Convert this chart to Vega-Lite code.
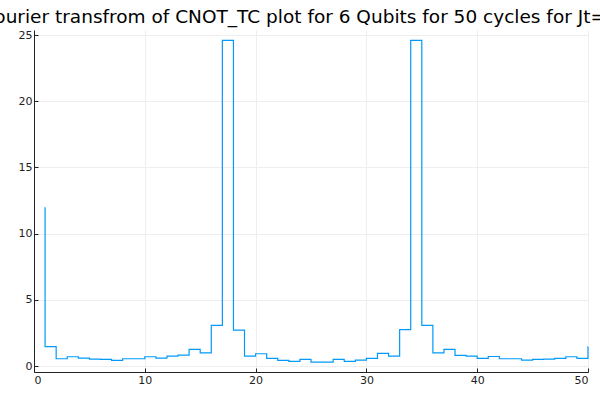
{
"$schema":"https://vega.github.io/schema/vega-lite/v6.json",
"autosize":"none",
"width":554,"height":342,
"padding":{"left":34,"top":30,"right":12,"bottom":28},
"background":"white",
"title":{"text":"Fourier transfrom of CNOT_TC plot for 6 Qubits for 50 cycles for Jt=1","fontSize":18.5,"fontWeight":"normal","font":"DejaVu Sans","color":"black","anchor":"middle","offset":3,"limit":0,"dx":-10},
"config":{"view":{"stroke":null},"axis":{"labelFont":"DejaVu Sans","labelFontSize":11,"labelColor":"#222","gridColor":"#eeeeee","domainColor":"#222","tickColor":"#222","tickSize":-4,"labelPadding":6,"titleFontSize":0}},
"data":{"values":[
{"x":1,"y":12},{"x":2,"y":1.46},{"x":3,"y":0.55},{"x":4,"y":0.7},{"x":5,"y":0.6},{"x":6,"y":0.52},{"x":7,"y":0.5},{"x":8,"y":0.43},{"x":9,"y":0.55},{"x":10,"y":0.55},
{"x":11,"y":0.7},{"x":12,"y":0.6},{"x":13,"y":0.75},{"x":14,"y":0.83},{"x":15,"y":1.26},{"x":16,"y":1.0},{"x":17,"y":3.07},{"x":18,"y":24.6},{"x":19,"y":2.72},{"x":20,"y":0.75},
{"x":21,"y":0.93},{"x":22,"y":0.58},{"x":23,"y":0.43},{"x":24,"y":0.35},{"x":25,"y":0.5},{"x":26,"y":0.3},{"x":27,"y":0.3},{"x":28,"y":0.5},{"x":29,"y":0.35},{"x":30,"y":0.45},
{"x":31,"y":0.58},{"x":32,"y":0.95},{"x":33,"y":0.75},{"x":34,"y":2.75},{"x":35,"y":24.6},{"x":36,"y":3.07},{"x":37,"y":1.0},{"x":38,"y":1.26},{"x":39,"y":0.8},{"x":40,"y":0.75},
{"x":41,"y":0.58},{"x":42,"y":0.72},{"x":43,"y":0.55},{"x":44,"y":0.55},{"x":45,"y":0.45},{"x":46,"y":0.5},{"x":47,"y":0.52},{"x":48,"y":0.58},{"x":49,"y":0.7},{"x":50,"y":0.58},
{"x":50.0001,"y":1.46}
]},
"mark":{"type":"line","interpolate":"step-before","color":"#009AFA","strokeWidth":1.2},
"encoding":{
"x":{"field":"x","type":"quantitative","scale":{"domain":[0,50],"nice":false},"axis":{"values":[0,10,20,30,40,50],"title":null}},
"y":{"field":"y","type":"quantitative","scale":{"domain":[-0.45,25.38],"nice":false,"zero":false},"axis":{"values":[0,5,10,15,20,25],"title":null}},
"order":{"field":"x","type":"quantitative"}
}
}
